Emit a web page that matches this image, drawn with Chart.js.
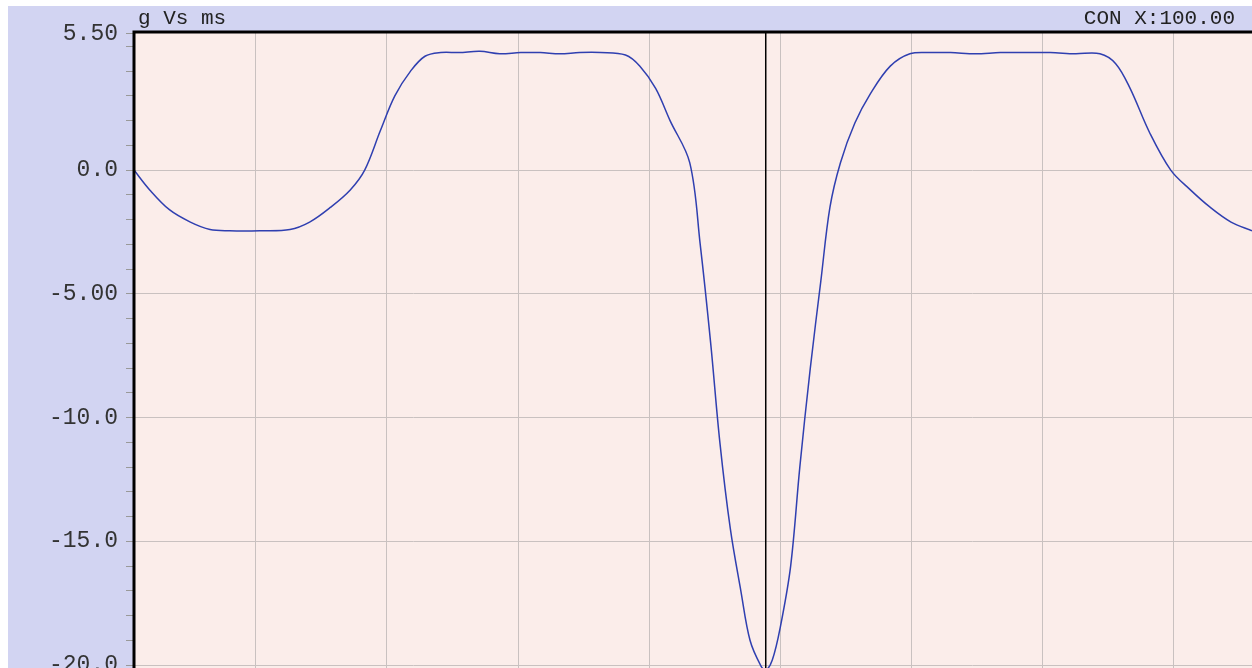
<!DOCTYPE html>
<html>
<head>
<meta charset="utf-8">
<script src="https://cdn.jsdelivr.net/npm/chart.js@4"></script>
<style>
  html, body { margin: 0; padding: 0; background: #fff; }
  #wrap { width: 1252px; height: 668px; position: relative; }
</style>
</head>
<body>
<div id="wrap"><canvas id="c"></canvas></div>
<script>
// time in ms, acceleration in g
const TIME_MS = [-9.3, -8.1, -6.6, -5.0, -3.5, -2.0, 0.3, 2.6, 4.1, 5.7, 7.2, 8.3, 9.5, 10.6, 11.8, 12.9, 14.1,
  15.5, 17.1, 18.6, 20.2, 21.7, 23.2, 24.7, 26.3, 28.2, 29.3, 30.5, 31.6, 33.1, 33.9, 34.7, 35.4, 36.2, 37.0,
  37.7, 38.5, 38.9, 39.4, 40.0, 40.8, 41.5, 42.3, 43.1, 43.8, 44.6, 45.7, 46.9, 48.4, 49.9, 51.5, 53.0, 54.9,
  56.8, 58.7, 60.6, 62.5, 64.4, 65.6, 66.7, 68.2, 69.8, 71.3, 72.8, 74.4, 76.0];
const ACCEL_G = [0, -0.8, -1.6, -2.1, -2.4, -2.45, -2.45, -2.4, -2.1, -1.5, -0.8, 0, 1.6, 3.0, 4.0, 4.6, 4.75,
  4.75, 4.8, 4.7, 4.75, 4.75, 4.7, 4.75, 4.75, 4.65, 4.2, 3.3, 2.0, 0.3, -3, -7, -11, -14.5, -17,
  -19, -20, -20.2, -19.8, -18.5, -16, -12, -8, -4.5, -1.5, 0.3, 1.9, 3.1, 4.2, 4.7, 4.75, 4.75, 4.7,
  4.75, 4.75, 4.75, 4.7, 4.7, 4.3, 3.3, 1.5, 0, -0.8, -1.5, -2.1, -2.45];
const Y_TICKS = [5.5, 5, 4, 3, 2, 1, 0, -1, -2, -3, -4, -5, -6, -7, -8, -9, -10, -11, -12, -13, -14, -15,
  -16, -17, -18, -19, -20];
const Y_LABELS = { '5.5': '5.50', '0': '0.0', '-5': '-5.00', '-10': '-10.0', '-15': '-15.0', '-20': '-20.0' };
const CURSOR_MS = 38.9;
const TITLE_LEFT = 'g Vs ms';
const TITLE_RIGHT = 'CON X:100.00';

const MONO = '"Liberation Mono", "DejaVu Sans Mono", monospace';

const framePlugin = {
  id: 'frame',
  beforeDraw(chart) {
    const { ctx, chartArea: a } = chart;
    ctx.save();
    ctx.fillStyle = '#d2d4f2';
    ctx.fillRect(8, 6, chart.width - 8, chart.height - 6);
    ctx.fillStyle = '#fbedea';
    ctx.fillRect(a.left, a.top, a.right - a.left, a.bottom - a.top);
    ctx.restore();
  },
  afterDatasetsDraw(chart) {
    const { ctx, chartArea: a, scales } = chart;
    ctx.save();
    const cx = scales.x.getPixelForValue(CURSOR_MS);
    ctx.strokeStyle = '#000';
    ctx.lineWidth = 1.5;
    ctx.beginPath();
    ctx.moveTo(cx, a.top);
    ctx.lineTo(cx, a.bottom);
    ctx.stroke();
    ctx.lineWidth = 3;
    ctx.beginPath();
    ctx.moveTo(a.left, a.bottom);
    ctx.lineTo(a.left, a.top);
    ctx.lineTo(a.right, a.top);
    ctx.stroke();
    ctx.fillStyle = '#222';
    ctx.font = '21px ' + MONO;
    ctx.textBaseline = 'alphabetic';
    ctx.textAlign = 'left';
    ctx.fillText(TITLE_LEFT, a.left + 4, 24);
    ctx.textAlign = 'right';
    ctx.fillText(TITLE_RIGHT, a.right - 17, 24);
    ctx.restore();
  }
};

new Chart(document.getElementById('c'), {
  type: 'line',
  data: {
    datasets: [{
      data: TIME_MS.map((t, i) => ({ x: t, y: ACCEL_G[i] })),
      borderColor: '#2f3fb0',
      borderWidth: 1.5,
      pointRadius: 0,
      tension: 0.35,
    }],
  },
  options: {
    responsive: true,
    maintainAspectRatio: false,
    animation: false,
    layout: { padding: { top: 32, left: 0, right: 0, bottom: 0 } },
    plugins: { legend: { display: false }, tooltip: { enabled: false } },
    scales: {
      x: {
        type: 'linear',
        min: -9.3,
        max: 76,
        afterFit: s => { s.height = 0; },
        ticks: { display: false, stepSize: 10 },
        grid: { color: '#c9c1c0', drawTicks: false },
        border: { display: false },
      },
      y: {
        min: -20.12,
        max: 5.58,
        afterBuildTicks: s => { s.ticks = Y_TICKS.map(v => ({ value: v })); },
        afterFit: s => { s.width = 134; s.paddingTop = 0; s.paddingBottom = 0; },
        ticks: {
          color: '#333',
          autoSkip: false,
          font: { family: MONO, size: 23 },
          padding: 8,
          callback: v => Y_LABELS[String(v)] || '',
        },
        grid: {
          color: c => (c.tick && c.tick.value % 5 === 0 && c.tick.value !== 5) ? '#c9c1c0' : 'rgba(0,0,0,0)',
          tickColor: '#999',
          tickLength: 8,
        },
        border: { display: false },
      },
    },
  },
  plugins: [framePlugin],
});
</script>
</body>
</html>
